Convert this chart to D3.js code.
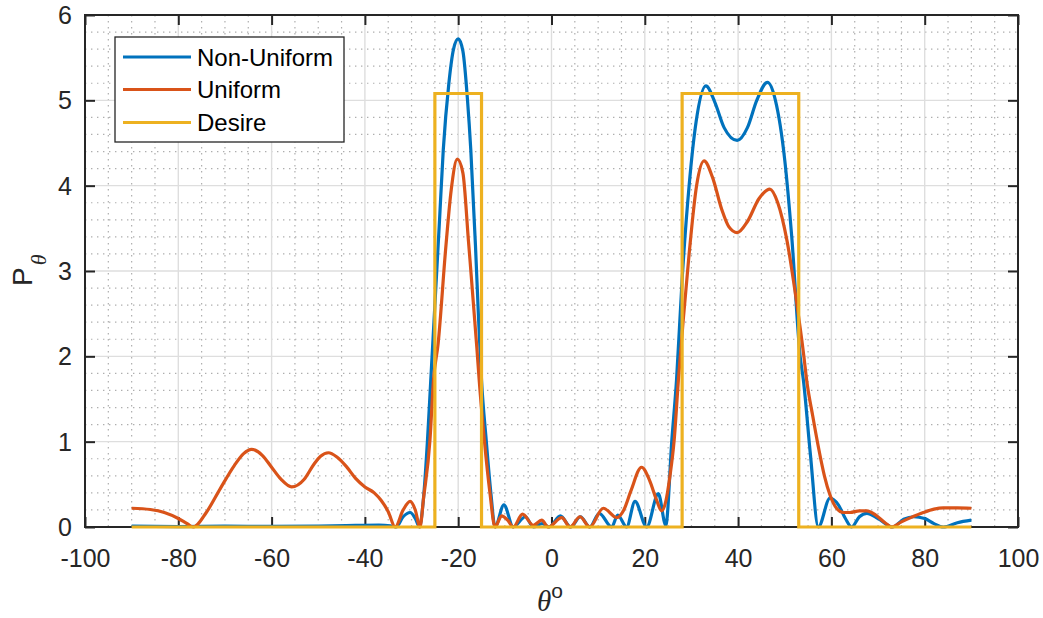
<!DOCTYPE html>
<html>
<head>
<meta charset="utf-8">
<script src="https://cdn.jsdelivr.net/npm/d3@7"></script>
<style>
  html, body { margin: 0; padding: 0; background: #fff; }
  svg { display: block; }
</style>
</head>
<body>
<svg id="chart" width="1043" height="618"></svg>
<script>
// ---- data ----
const xTicks = [-100, -80, -60, -40, -20, 0, 20, 40, 60, 80, 100];
const yTicks = [0, 1, 2, 3, 4, 5, 6];

const nonUniformX = [-90,-80,-70,-60,-50,-42,-37,-34.5,-33.3,-31.8,-30.3,-29.2,-28.3,-27.5,-26.6,-25.9,-25,-24,-23.2,-22,-21,-20,-19,-18,-17.3,-16.3,-15.6,-15,-14,-13,-12.1,-10.2,-8.2,-5.6,-3.9,-2,-0.5,1.9,4.1,6.2,8.2,10.25,12.9,14.2,16.1,17.9,20.4,22.9,24.5,25.8,26.8,28,29.5,31,33.1,35,37,39.8,42,44,46.3,48,50,51.5,53.3,54,55.5,57.2,59.7,61.5,63,64.35,66,67.6,70,73.1,75.5,77.6,80,82,84,87,90];
const nonUniformY = [0.01,0.005,0.01,0.008,0.012,0.018,0.022,0.015,0.0,0.12,0.17,0.1,0.0,0.3,1.0,1.7,2.6,3.6,4.42,5.2,5.6,5.72,5.58,5.0,4.42,3.3,2.4,1.72,1.02,0.4,0.0,0.26,0.0,0.12,0.0,0.04,0.0,0.13,0.0,0.12,0.0,0.16,0.0,0.14,0.0,0.30,0.0,0.39,0.02,1.02,1.72,2.9,4.0,4.75,5.17,4.98,4.68,4.53,4.68,5.0,5.21,5.0,4.3,3.4,2.0,1.72,0.85,0.0,0.34,0.26,0.1,0.0,0.12,0.16,0.1,0.0,0.09,0.12,0.1,0.04,0.0,0.05,0.08];

const uniformX = [-90,-86,-83,-80,-78,-76.8,-74,-71,-68,-66,-64.3,-62,-60,-58,-55.7,-53,-51,-49.5,-47.8,-46,-44,-42,-40,-38,-36.5,-35,-33.5,-31.8,-30.3,-29.2,-28.2,-27.4,-26.05,-25.3,-24.3,-22.7,-21.5,-20.2,-19,-17.8,-16,-15.5,-14.4,-13.2,-12.1,-10.7,-9.4,-8.2,-6.2,-3.9,-2.1,-0.7,2.2,4.0,6.1,8.2,11.1,14.0,15.5,17,19.3,21,22.5,23.6,24.5,25.4,26.3,27.2,28.2,29.5,31.1,32.7,34.5,36.5,38,39.8,42,44.5,46.8,48.5,50.5,52.5,54.1,54.7,56,57.2,58.5,59.7,61.1,62.6,64,66,67.6,69.5,71.5,72.9,75,77,79.7,82,84,87,90];
const uniformY = [0.22,0.205,0.17,0.10,0.035,0.0,0.17,0.45,0.72,0.86,0.91,0.84,0.70,0.56,0.47,0.56,0.73,0.83,0.87,0.82,0.71,0.57,0.47,0.40,0.31,0.18,0.0,0.2,0.30,0.2,0.0,0.35,1.02,1.72,2.15,3.25,3.95,4.31,4.15,3.35,2.1,1.72,1.02,0.4,0.0,0.13,0.08,0.0,0.15,0.02,0.08,0.0,0.11,0.0,0.12,0.0,0.22,0.11,0.2,0.42,0.70,0.55,0.32,0.19,0.3,0.6,1.02,1.72,2.4,3.2,4.0,4.29,4.1,3.72,3.52,3.45,3.58,3.85,3.96,3.8,3.35,2.65,2.0,1.72,1.3,0.94,0.6,0.375,0.22,0.17,0.17,0.19,0.19,0.14,0.05,0.0,0.06,0.11,0.17,0.21,0.225,0.225,0.22];

const desireX = [-90,-25,-25,-15,-15,28,28,53,53,90];
const desireY = [0,0,5.08,5.08,0,0,5.08,5.08,0,0];

const seriesNames = ["Non-Uniform", "Uniform", "Desire"];
const seriesColors = ["#0072BD", "#D95319", "#EDB120"];

// ---- layout ----
const W = 1043, H = 618;
const m = {left: 85, top: 15, right: 25, bottom: 91};
const iw = W - m.left - m.right, ih = H - m.top - m.bottom;
const axisColor = "#262626";
const font = "'Liberation Sans', Arial, Helvetica, sans-serif";
const serif = "'Liberation Serif', 'Times New Roman', serif";

const svg = d3.select("#chart");
const g = svg.append("g").attr("transform", `translate(${m.left},${m.top})`);

const x = d3.scaleLinear().domain([-100, 100]).range([0, iw]);
const y = d3.scaleLinear().domain([0, 6]).range([ih, 0]);

// minor grid (dotted)
const xMinor = d3.range(-100, 100.01, 5).filter(v => v % 20 !== 0);
const yMinor = d3.range(0, 6.001, 0.2).map(v => +v.toFixed(1)).filter(v => Math.abs(v - Math.round(v)) > 1e-6);
g.append("g").selectAll("line").data(xMinor).join("line")
  .attr("x1", d => x(d)).attr("x2", d => x(d)).attr("y1", 0).attr("y2", ih)
  .attr("stroke", "#aeaeae").attr("stroke-width", 1.2).attr("stroke-dasharray", "1.4,4.6");
g.append("g").selectAll("line").data(yMinor).join("line")
  .attr("y1", d => y(d)).attr("y2", d => y(d)).attr("x1", 0).attr("x2", iw)
  .attr("stroke", "#aeaeae").attr("stroke-width", 1.2).attr("stroke-dasharray", "1.4,4.6");

// major grid
g.append("g").selectAll("line").data(xTicks).join("line")
  .attr("x1", d => x(d)).attr("x2", d => x(d)).attr("y1", 0).attr("y2", ih)
  .attr("stroke", "#dedede").attr("stroke-width", 1.4);
g.append("g").selectAll("line").data(yTicks).join("line")
  .attr("y1", d => y(d)).attr("y2", d => y(d)).attr("x1", 0).attr("x2", iw)
  .attr("stroke", "#dedede").attr("stroke-width", 1.4);

// axes with inward ticks
const tickLen = 10;
const fmt = d => String(d);
const bottomAxis = d3.axisBottom(x).tickValues(xTicks).tickFormat(fmt).tickSizeInner(-tickLen).tickSizeOuter(0);
const leftAxis = d3.axisLeft(y).tickValues(yTicks).tickFormat(fmt).tickSizeInner(-tickLen).tickSizeOuter(0);
const topAxis = d3.axisTop(x).tickValues(xTicks).tickSizeInner(-tickLen).tickSizeOuter(0).tickFormat("");
const rightAxis = d3.axisRight(y).tickValues(yTicks).tickSizeInner(-tickLen).tickSizeOuter(0).tickFormat("");

function styleAxis(sel) {
  sel.select(".domain").remove();
  sel.selectAll(".tick line").attr("stroke", axisColor).attr("stroke-width", 2);
  sel.selectAll(".tick text").attr("fill", axisColor).style("font-family", font).style("font-size", "25px");
}
const gb = g.append("g").attr("transform", `translate(0,${ih})`).call(bottomAxis).call(styleAxis);
gb.selectAll(".tick text").attr("dy", null).attr("y", 40);
const gl = g.append("g").call(leftAxis).call(styleAxis);
gl.selectAll(".tick text").attr("x", -13).attr("dy", "0.34em");
g.append("g").call(topAxis).call(styleAxis);
g.append("g").attr("transform", `translate(${iw},0)`).call(rightAxis).call(styleAxis);

// box
g.append("rect").attr("x", 0).attr("y", 0).attr("width", iw).attr("height", ih)
  .attr("fill", "none").attr("stroke", axisColor).attr("stroke-width", 2);

// series
const smooth = d3.line().x(d => x(d[0])).y(d => y(d[1])).curve(d3.curveMonotoneX);
const straight = d3.line().x(d => x(d[0])).y(d => y(d[1]));
const nonUniform = d3.zip(nonUniformX, nonUniformY);
const uniform = d3.zip(uniformX, uniformY);
const desire = d3.zip(desireX, desireY);

g.append("path").attr("d", smooth(nonUniform)).attr("fill", "none")
  .attr("stroke", seriesColors[0]).attr("stroke-width", 3.2).attr("stroke-linejoin", "round");
g.append("path").attr("d", smooth(uniform)).attr("fill", "none")
  .attr("stroke", seriesColors[1]).attr("stroke-width", 3.2).attr("stroke-linejoin", "round");
g.append("path").attr("d", straight(desire)).attr("fill", "none")
  .attr("stroke", seriesColors[2]).attr("stroke-width", 3.2).attr("stroke-linejoin", "miter");

// legend
const lg = svg.append("g");
lg.append("rect").attr("x", 115).attr("y", 37).attr("width", 229).attr("height", 105)
  .attr("fill", "#fff").attr("stroke", axisColor).attr("stroke-width", 1.3);
const rowY = [57, 89.5, 122.5];
seriesNames.forEach((name, i) => {
  lg.append("line").attr("x1", 123).attr("x2", 191).attr("y1", rowY[i]).attr("y2", rowY[i])
    .attr("stroke", seriesColors[i]).attr("stroke-width", 3.2);
  lg.append("text").attr("x", 197).attr("y", rowY[i]).attr("dy", "0.36em")
    .attr("fill", "#000").style("font-family", font).style("font-size", "24px").text(name);
});

// x label: theta with superscript o
const xl = svg.append("text").attr("x", 550).attr("y", 611).attr("text-anchor", "middle").attr("fill", axisColor);
xl.append("tspan").style("font-family", serif)
  .style("font-style", "italic").style("font-size", "29px").text("θ");
xl.append("tspan").attr("dy", -13).style("font-family", font).style("font-size", "21px").text("o");

// y label: P with subscript theta
const yl = svg.append("text").attr("transform", "translate(32,286) rotate(-90)").attr("fill", axisColor);
yl.append("tspan").style("font-family", font).style("font-size", "28px").text("P");
yl.append("tspan").attr("dy", 14).attr("dx", 2).style("font-family", serif)
  .style("font-style", "italic").style("font-size", "22px").text("θ");
</script>
</body>
</html>
